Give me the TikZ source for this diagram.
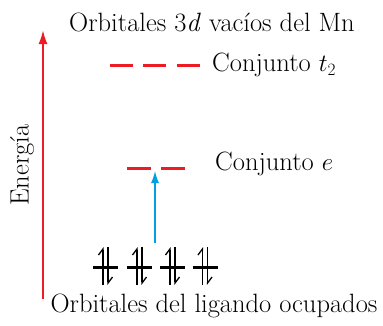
\documentclass[tikz,border=0pt]{standalone}
\usepackage{fontspec}
\usetikzlibrary{arrows.meta}
\definecolor{enred}{RGB}{237,28,36}
\definecolor{enblue}{RGB}{0,160,227}

\begin{document}
\begin{tikzpicture}[x=1pt, y=-1pt,
  lbl/.style={font=\fontsize{26.5}{30}\selectfont, inner sep=0pt},
  lvl/.style={draw=enred, line width=3pt},
  bar/.style={draw, line width=3pt},
  spin/.style={line width=1.3pt, -{Straight Barb[left, length=6pt, width=9pt]}}
]
\useasboundingbox (0,0) rectangle (383,325);

% labels
\node[lbl] (titulo) at (212,22) {Orbitales 3\textit{d} vac\'{\i}os del Mn};
\node[lbl, anchor=west] (t2) at (212,65) {Conjunto $t_2$};
\node[lbl, anchor=west] (e) at (215,164) {Conjunto $e$};
\node[lbl, rotate=90] (energia) at (22,165) {Energ\'{\i}a};
\node[lbl] (ligando) at (214,306) {Orbitales del ligando ocupados};

% energy axis
\coordinate (ejeA) at (43,299);
\coordinate (ejeB) at (43,30);
\draw[enred, line width=2pt, -{Latex[length=14pt, width=9pt]}] (ejeA) -- (ejeB);

% t2 set
\foreach \x in {110,143,177}
  \draw[lvl] (\x,65) -- ++(23,0);

% e set
\foreach \x in {127,161}
  \draw[lvl] (\x,168) -- ++(24,0);

% ligand orbitals
\foreach \x [count=\i] in {105.5,139.5,172.5,205}{
  \coordinate (orb\i) at (\x,267);
  \draw[bar] (\x-12.5,267) -- (\x+12.5,267);
  \draw[spin] (\x-2.5,285) -- (\x-2.5,247);
  \draw[spin] (\x+2.5,247) -- (\x+2.5,285);
}

% excitation
\coordinate (eb) at (155,171);
\coordinate (lb) at (155,243);
\draw[enblue, line width=1.3pt, -{Latex[length=12pt, width=8pt]}] (lb) -- (eb);
\end{tikzpicture}
\end{document}
